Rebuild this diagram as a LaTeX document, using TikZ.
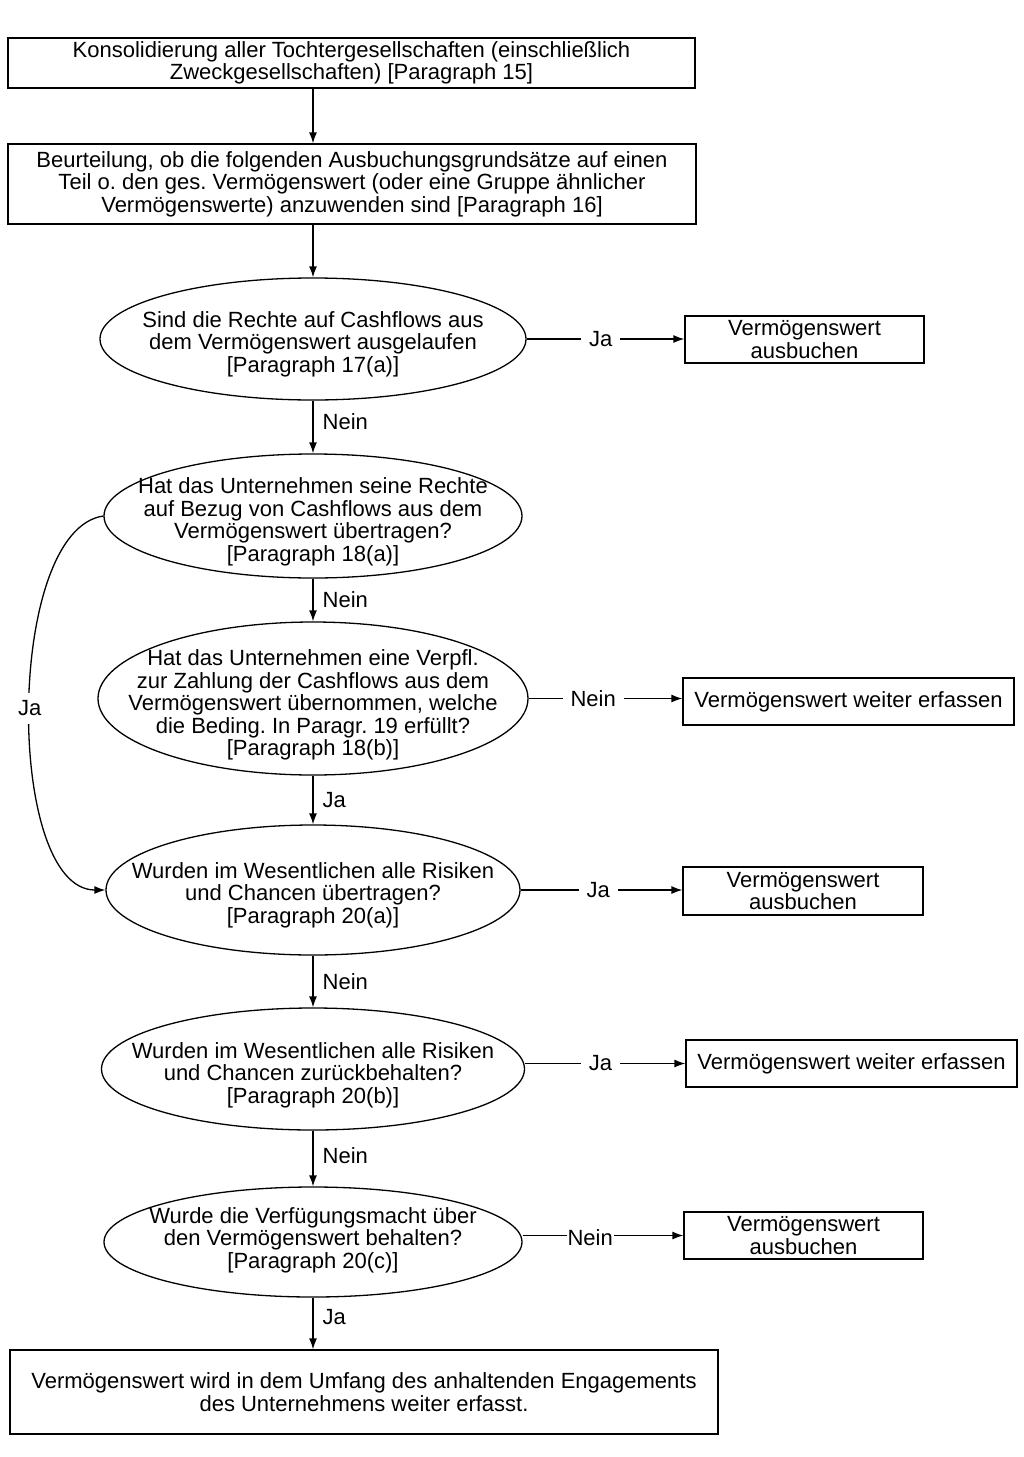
\documentclass[tikz,border=0pt]{standalone}
\usepackage{fontspec}
\setmainfont{Liberation Sans}
\usetikzlibrary{shapes.geometric,arrows.meta}
\frenchspacing

\begin{document}
\begin{tikzpicture}[x=1pt,y=-1pt,
  box/.style={draw,line width=1.3pt,rectangle,inner sep=0pt,align=center,font=\fontsize{22}{22.5}\selectfont},
  decision/.style={draw,line width=1.3pt,ellipse,inner sep=0pt},
  txt/.style={inner sep=0pt,align=center,font=\fontsize{22}{22.5}\selectfont},
  arr/.style={line width=1.3pt,-{Latex[length=11pt,width=8pt]}},
  lbl/.style={inner sep=0pt,font=\fontsize{22}{24}\selectfont},
  gap/.style={lbl,fill=white,inner xsep=8pt,inner ysep=3pt}]
\path[use as bounding box] (0,0) rectangle (1024,1457);
% Kopf
\node[box,minimum width=687pt,minimum height=50pt] (b1) at (351.5,63) {Konsolidierung aller Tochtergesellschaften (einschließlich\\Zweckgesellschaften) [Paragraph 15]};
\node[box,minimum width=688pt,minimum height=80pt] (b2) at (352,184) {Beurteilung, ob die folgenden Ausbuchungsgrundsätze auf einen\\Teil o. den ges. Vermögenswert (oder eine Gruppe ähnlicher\\Vermögenswerte) anzuwenden sind [Paragraph 16]};
% Entscheidungen
\node[decision,minimum width=426pt,minimum height=122pt] (e1) at (313,339) {};
\node[txt] (e1t) at (313,344) {Sind die Rechte auf Cashflows aus\\dem Vermögenswert ausgelaufen\\{}[Paragraph 17(a)]};
\node[decision,minimum width=418pt,minimum height=124pt] (e2) at (313,516) {};
\node[txt] (e2t) at (313,522) {Hat das Unternehmen seine Rechte\\auf Bezug von Cashflows aus dem\\Vermögenswert übertragen?\\{}[Paragraph 18(a)]};
\node[decision,minimum width=430pt,minimum height=153pt] (e3) at (313,698.5) {};
\node[txt] (e3t) at (313,705) {Hat das Unternehmen eine Verpfl.\\zur Zahlung der Cashflows aus dem\\Vermögenswert übernommen, welche\\die Beding. In Paragr. 19 erfüllt?\\{}[Paragraph 18(b)]};
\node[decision,minimum width=414pt,minimum height=130pt] (e4) at (313,890) {};
\node[txt] (e4t) at (313,895) {Wurden im Wesentlichen alle Risiken\\und Chancen übertragen?\\{}[Paragraph 20(a)]};
\node[decision,minimum width=423pt,minimum height=122pt] (e5) at (313,1069) {};
\node[txt] (e5t) at (313,1075) {Wurden im Wesentlichen alle Risiken\\und Chancen zurückbehalten?\\{}[Paragraph 20(b)]};
\node[decision,minimum width=418pt,minimum height=110pt] (e6) at (313,1242) {};
\node[txt] (e6t) at (313,1240) {Wurde die Verfügungsmacht über\\den Vermögenswert behalten?\\{}[Paragraph 20(c)]};
% Ergebnisse
\node[box,minimum width=239pt,minimum height=47pt] (r1) at (804.5,339.5) {Vermögenswert\\ausbuchen};
\node[box,minimum width=331pt,minimum height=47pt] (r2) at (848.5,701.5) {Vermögenswert weiter erfassen};
\node[box,minimum width=240pt,minimum height=48pt] (r3) at (803,891) {Vermögenswert\\ausbuchen};
\node[box,minimum width=331pt,minimum height=47pt] (r4) at (851.5,1063.5) {Vermögenswert weiter erfassen};
\node[box,minimum width=239pt,minimum height=47pt] (r5) at (803.5,1235.5) {Vermögenswert\\ausbuchen};
\node[box,minimum width=708pt,minimum height=84pt] (b3) at (364,1392) {Vermögenswert wird in dem Umfang des anhaltenden Engagements\\des Unternehmens weiter erfasst.};
% Pfeile
\draw[arr] (b1.south -| e1.center) -- (b2.north -| e1.center);
\draw[arr] (b2.south -| e1.center) -- (e1.north);
\draw[arr] (e1.south) -- node[lbl,right=9pt,pos=0.4] (n1) {Nein} (e2.north);
\draw[arr] (e2.south) -- node[lbl,right=9pt] (n2) {Nein} (e3.north);
\draw[arr] (e3.south) -- node[lbl,right=9pt] (n3) {Ja} (e4.north);
\draw[arr] (e4.south) -- node[lbl,right=9pt] (n4) {Nein} (e5.north);
\draw[arr] (e5.south) -- node[lbl,right=9pt,pos=0.45] (n5) {Nein} (e6.north);
\draw[arr] (e6.south) -- node[lbl,right=9pt,pos=0.38] (n6) {Ja} (b3.north -| e6.south);
\draw[arr] (e1.east) -- node[gap,pos=0.47] (j1) {Ja} (e1.east -| r1.west);
\draw[arr] (e3.east) -- node[gap,pos=0.42] (j2) {Nein} (e3.east -| r2.west);
\draw[arr] (e4.east) -- node[gap,pos=0.48] (j3) {Ja} (e4.east -| r3.west);
\draw[arr] (r4.west -| e5.east) -- node[gap,pos=0.47] (j4) {Ja} (r4.west);
\draw[arr] (r5.west -| e6.east) -- node[gap,pos=0.42,inner xsep=1pt,yshift=-2pt] (j5) {Nein} (r5.west);
\draw[arr] (e2.west) .. controls (5,530) and (5,890) .. node[gap,inner xsep=3pt,inner ysep=8pt] (j6) {Ja} (e4.west);
\end{tikzpicture}
\end{document}
